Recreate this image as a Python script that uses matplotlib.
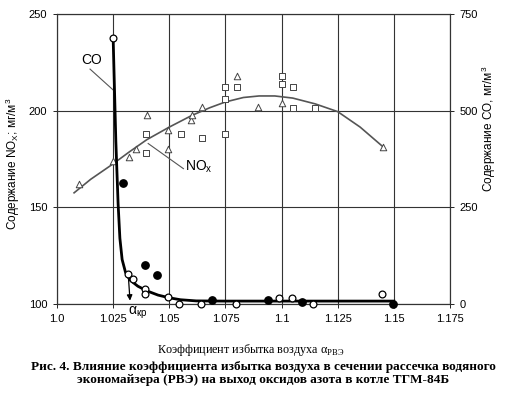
import numpy as np
import matplotlib.pyplot as plt

plt.rcParams['font.family'] = ['Liberation Sans', 'DejaVu Sans']

# NOx measurements (left axis, mg/m3)
nox_tri_x = [1.0098, 1.025, 1.032, 1.035, 1.040, 1.0496, 1.0496, 1.0598, 1.060,
             1.0647, 1.080, 1.0897, 1.100, 1.145]
nox_tri_y = [162, 174, 176, 180, 198, 190, 180, 195, 198, 202, 218, 202, 204, 181]
nox_sq_x = [1.0397, 1.0397, 1.055, 1.0647, 1.075, 1.075, 1.075, 1.080, 1.100,
            1.100, 1.105, 1.105, 1.115]
nox_sq_y = [188, 178, 188, 186, 188, 206, 212, 212, 218, 214, 212, 201.5, 201.5]
# NOx trend line
nox_fit_x = [1.0076, 1.015, 1.025, 1.032, 1.04, 1.05, 1.06, 1.068, 1.075, 1.083,
             1.09, 1.097, 1.105, 1.115, 1.125, 1.135, 1.145]
nox_fit_y = [157.5, 164.5, 172.5, 178.5, 185, 191.5, 197.5, 201.5, 204.5, 206.8,
             207.6, 207.6, 206.5, 203.5, 199.5, 191.5, 181.5]

# CO measurements (right axis, mg/m3)
co_open_x = [1.025, 1.0317, 1.034, 1.039, 1.039, 1.0496, 1.0545, 1.064, 1.0795,
             1.099, 1.1045, 1.114, 1.1446]
co_open_y = [687, 77, 64, 39, 26, 18, 0, 0, 0, 15, 15, 0, 26]
co_fill_x = [1.0295, 1.039, 1.0446, 1.069, 1.094, 1.109, 1.1495]
co_fill_y = [312, 100, 75, 10, 10, 5, 0]
# CO trend line
co_fit_x = [1.025, 1.0262, 1.0272, 1.028, 1.029, 1.0305, 1.0325, 1.036, 1.04,
            1.045, 1.05, 1.055, 1.062, 1.075, 1.1, 1.125, 1.15]
co_fit_y = [687, 420, 260, 170, 115, 82, 62, 46, 34, 23, 16, 11, 8, 7.5, 7.5, 7.5, 7.5]

fig = plt.figure(figsize=(5.26, 3.95), dpi=100)
ax = fig.add_axes([0.1084, 0.2304, 0.747, 0.7342])
ax2 = ax.twinx()

ax.set_xlim(1.0, 1.175)
ax.set_ylim(100, 250)
ax2.set_ylim(0, 750)
ax.set_xticks([1.0, 1.025, 1.05, 1.075, 1.1, 1.125, 1.15, 1.175])
ax.set_xticklabels(['1.0', '1.025', '1.05', '1.075', '1.1', '1.125', '1.15', '1.175'])
ax.set_yticks([100, 150, 200, 250])
ax2.set_yticks([0, 250, 500, 750])
ax.grid(True, color='#333333', linewidth=0.8)
ax.set_axisbelow(True)
for a in (ax, ax2):
    a.tick_params(labelsize=8, length=3, width=0.6, pad=4)
    for s in a.spines.values():
        s.set_linewidth(0.8)
        s.set_color('#333333')

# NOx
ax.plot(nox_fit_x, nox_fit_y, color='#555555', lw=1.2, zorder=3)
ax.scatter(nox_tri_x, nox_tri_y, marker='^', s=22, facecolors='white',
           edgecolors='#444444', linewidths=0.7, zorder=4)
ax.scatter(nox_sq_x, nox_sq_y, marker='s', s=20, facecolors='white',
           edgecolors='#444444', linewidths=0.7, zorder=4)

# CO
ax2.plot(co_fit_x, co_fit_y, color='black', lw=2.0, zorder=3)
ax2.scatter(co_open_x, co_open_y, marker='o', s=24, facecolors='white',
            edgecolors='black', linewidths=0.9, zorder=4, clip_on=False)
ax2.scatter(co_fill_x, co_fill_y, marker='o', s=28, color='black', zorder=4,
            clip_on=False)

# labels with leader lines
ax.plot([1.0147, 1.025], [221.5, 210.7], color='#555555', lw=0.8)
ax.text(1.0155, 222.5, 'CO', fontsize=10, ha='center', va='bottom')
ax.plot([1.0406, 1.0563], [183, 170], color='#555555', lw=0.8)
ax.text(1.057, 171, 'NO$_\\mathregular{x}$', fontsize=10, ha='left', va='center')

ax.annotate('', xy=(1.0326, 100.3), xytext=(1.0317, 115.5),
            arrowprops=dict(arrowstyle='-|>', color='black', lw=0.9,
                            mutation_scale=8), zorder=5)
ax.text(1.0315, 95.5, 'α$_\\mathregular{кр}$', fontsize=10, ha='left', va='center',
        clip_on=False)

fig.text(0.025, 0.585, 'Содержание NO$_\\mathregular{X}$; мг/м$^\\mathregular{3}$',
         rotation=90, ha='center', va='center', fontsize=8.5)
fig.text(0.93, 0.675, 'Содержание CO, мг/м$^\\mathregular{3}$',
         rotation=90, ha='center', va='center', fontsize=8.5)

serif = ['Liberation Serif', 'DejaVu Serif']
fig.text(0.477, 0.114, 'Коэффициент избытка воздуха α$_\\mathregular{РВЭ}$',
         ha='center', va='center', fontsize=8.7, family=serif)
fig.text(0.5, 0.055, 'Рис. 4. Влияние коэффициента избытка воздуха в сечении рассечка водяного\n'
         'экономайзера (РВЭ) на выход оксидов азота в котле ТГМ-84Б',
         ha='center', va='center', fontsize=9.5, fontweight='bold', family=serif,
         linespacing=1.15)

fig.savefig('out.png', dpi=100)
